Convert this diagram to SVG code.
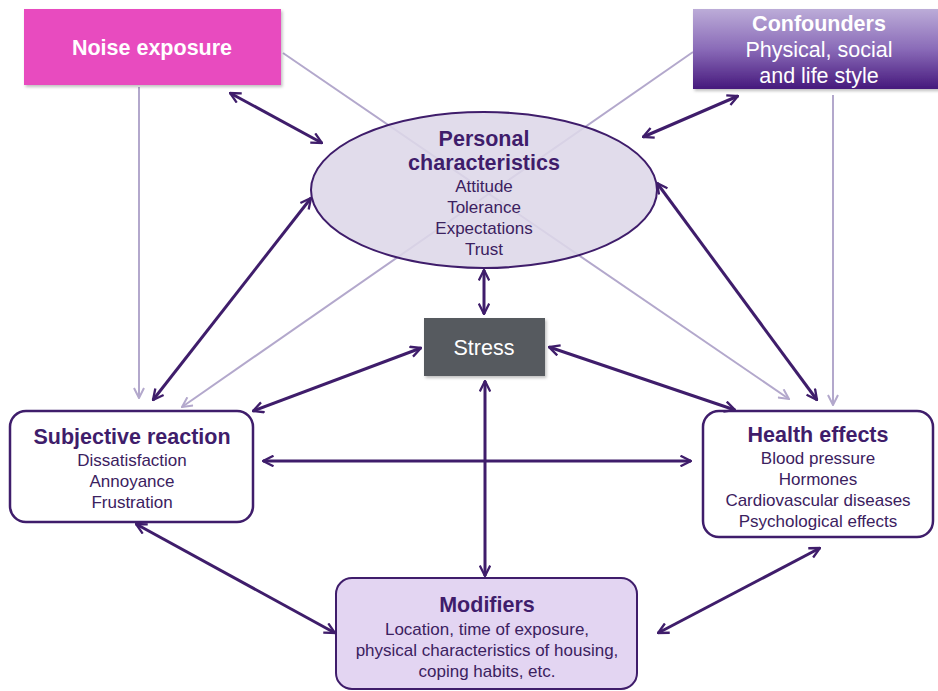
<svg xmlns="http://www.w3.org/2000/svg" width="938" height="691" viewBox="0 0 938 691">
<style>
.t{font-family:"Liberation Sans",Arial,sans-serif;text-anchor:middle}
.h{font-size:21.5px;font-weight:bold;fill:#3f1d6b}
.s{font-size:17px;fill:#3b2160}
.w{fill:#ffffff}
.dk{fill:none;stroke:#3f1d6b;stroke-width:3;marker-start:url(#ad);marker-end:url(#ad)}
.lt{fill:none;stroke:#b3a8cc;stroke-width:2;marker-end:url(#al)}
</style>
<defs>
<marker id="ad" viewBox="0 0 12 12" refX="11" refY="6" markerWidth="4.2" markerHeight="4.2" orient="auto-start-reverse" markerUnits="strokeWidth">
<path d="M1,1 L11,6 L1,11" fill="none" stroke="#3f1d6b" stroke-width="2.2"/>
</marker>
<marker id="al" viewBox="0 0 12 12" refX="11" refY="6" markerWidth="6" markerHeight="6" orient="auto-start-reverse" markerUnits="strokeWidth">
<path d="M1,1 L11,6 L1,11" fill="none" stroke="#b3a8cc" stroke-width="2"/>
</marker>
<linearGradient id="cg" x1="0" y1="0" x2="0" y2="1">
<stop offset="0" stop-color="#bcacd8"/>
<stop offset="0.5" stop-color="#8a6bb8"/>
<stop offset="1" stop-color="#46197c"/>
</linearGradient>
<filter id="sh" x="-5%" y="-5%" width="115%" height="120%">
<feDropShadow dx="1.5" dy="2" stdDeviation="1.5" flood-color="#000" flood-opacity="0.25"/>
</filter>
</defs>
<g id="connectors-light">
<line class="lt" x1="139" y1="87" x2="139" y2="398"/>
<line class="lt" x1="283" y1="53" x2="789" y2="399"/>
<line class="lt" x1="693" y1="52" x2="182" y2="407"/>
<line class="lt" x1="833" y1="95" x2="833" y2="405"/>
</g>
<g id="noise">
<rect x="24" y="9" width="257" height="76" fill="#e84bbf" filter="url(#sh)"/>
<text class="t h w" x="152" y="55" style="fill:#fff">Noise exposure</text>
</g>
<g id="confounders">
<rect x="693" y="9" width="250" height="80" fill="url(#cg)" filter="url(#sh)"/>
<text class="t h" x="819" y="31" style="fill:#fff">Confounders</text>
<text class="t" x="819" y="57" style="font-size:21.5px;fill:#fff">Physical, social</text>
<text class="t" x="819" y="83" style="font-size:21.5px;fill:#fff">and life style</text>
</g>
<g id="personal">
<ellipse cx="484" cy="190" rx="173" ry="78" fill="#ddd7e8" fill-opacity="0.88" stroke="#3f1d6b" stroke-width="2"/>
<text class="t h" x="484" y="146">Personal</text>
<text class="t h" x="484" y="170">characteristics</text>
<text class="t s" x="484" y="192">Attitude</text>
<text class="t s" x="484" y="213">Tolerance</text>
<text class="t s" x="484" y="234">Expectations</text>
<text class="t s" x="484" y="255">Trust</text>
</g>
<g id="stress">
<rect x="424" y="318" width="121" height="58" fill="#575a5e" filter="url(#sh)"/>
<text class="t" x="484" y="355" style="font-size:21.5px;fill:#fff">Stress</text>
</g>
<g id="subjective">
<rect x="10" y="411" width="243" height="111" rx="16" fill="#fff" stroke="#3f1d6b" stroke-width="2.5"/>
<text class="t h" x="132" y="444">Subjective reaction</text>
<text class="t s" x="132" y="466">Dissatisfaction</text>
<text class="t s" x="132" y="487">Annoyance</text>
<text class="t s" x="132" y="508">Frustration</text>
</g>
<g id="health">
<rect x="703" y="411" width="230" height="126" rx="16" fill="#fff" stroke="#3f1d6b" stroke-width="2.5"/>
<text class="t h" x="818" y="442">Health effects</text>
<text class="t s" x="818" y="464">Blood pressure</text>
<text class="t s" x="818" y="485">Hormones</text>
<text class="t s" x="818" y="506">Cardiovascular diseases</text>
<text class="t s" x="818" y="527">Psychological effects</text>
</g>
<g id="modifiers">
<rect x="336" y="578" width="301" height="111" rx="16" fill="#e3d5f2" stroke="#3f1d6b" stroke-width="2"/>
<text class="t h" x="487" y="612">Modifiers</text>
<text class="t s" x="487" y="635">Location, time of exposure,</text>
<text class="t s" x="487" y="656">physical characteristics of housing,</text>
<text class="t s" x="487" y="677">coping habits, etc.</text>
</g>
<g id="connectors">
<line class="dk" x1="230" y1="93" x2="322" y2="143"/>
<line class="dk" x1="738" y1="96" x2="643" y2="137"/>
<line class="dk" x1="311" y1="198" x2="153" y2="400"/>
<line class="dk" x1="657" y1="183" x2="817" y2="400"/>
<line class="dk" x1="484" y1="270" x2="484" y2="314"/>
<line class="dk" x1="421" y1="348" x2="253" y2="411"/>
<line class="dk" x1="549" y1="347" x2="735" y2="410"/>
<line class="dk" x1="485" y1="381" x2="485" y2="576"/>
<line class="dk" x1="263" y1="461" x2="691" y2="461"/>
<line class="dk" x1="136" y1="524" x2="335" y2="633"/>
<line class="dk" x1="820" y1="548" x2="658" y2="633"/>
</g>
</svg>
